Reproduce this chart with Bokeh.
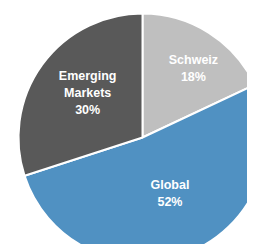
import math
from bokeh.plotting import figure
from bokeh.models import Range1d, ColumnDataSource
from bokeh.core.properties import value
from bokeh.embed import file_html
from bokeh.resources import INLINE

# data
categories = ["Schweiz", "Global", "Emerging\nMarkets"]
shares = [18, 52, 30]
colors = ["#BFBFBF", "#5091C2", "#595959"]

# layout
W, H = 247, 244
cx, cy, R = 142, 107, 124
label_r = [0.69, 0.5, 0.57]
label_perp = [-6, 5, -4]

total = sum(shares)
starts, ends, lx, ly, texts = [], [], [], [], []
a = math.pi / 2
for cat, s, rf, pp in zip(categories, shares, label_r, label_perp):
    sweep = 2 * math.pi * s / total
    end = a - sweep
    starts.append(end)
    ends.append(a)
    mid = (a + end) / 2
    r = R * rf
    lx.append(cx + r * math.cos(mid) - pp * math.sin(mid))
    ly.append(cy + r * math.sin(mid) + pp * math.cos(mid))
    texts.append(f"{cat}\n{s}%")
    a = end

src = ColumnDataSource(dict(start=starts, end=ends, color=colors, lx=lx, ly=ly, text=texts))

p = figure(width=W, height=H, output_backend="svg", toolbar_location=None,
           x_range=Range1d(0, W), y_range=Range1d(0, H), min_border=0)
p.axis.visible = False
p.grid.visible = False
p.outline_line_color = None
p.background_fill_color = "white"
p.border_fill_color = "white"

p.wedge(x=cx, y=cy, radius=R, start_angle="start", end_angle="end", color="color",
        line_color="white", line_width=2, source=src)
p.text(x="lx", y="ly", text="text", source=src, text_color="white",
       text_font=value("Liberation Sans"), text_font_style="bold", text_font_size="12.5px",
       text_align="center", text_baseline="middle", text_line_height=1.2)

open("out.html", "w").write(file_html(p, INLINE))
